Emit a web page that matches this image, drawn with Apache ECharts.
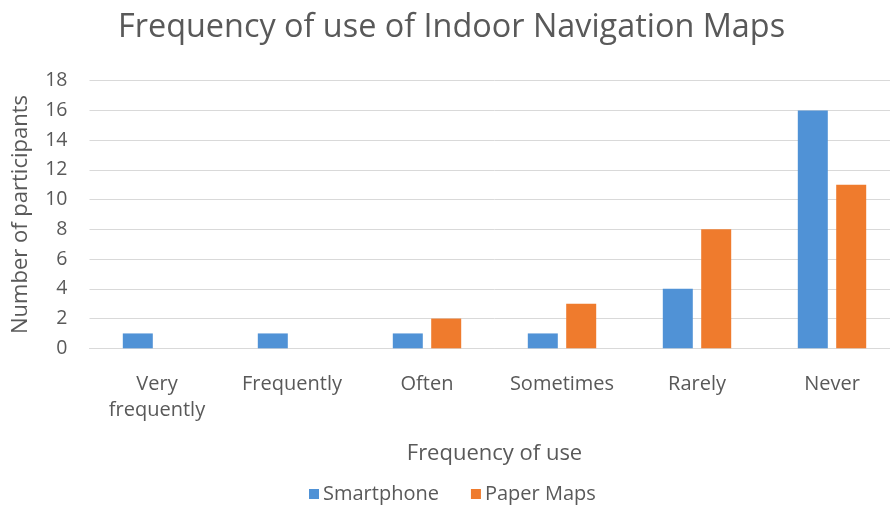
<!DOCTYPE html>
<html>
<head>
<meta charset="utf-8">
<script src="https://cdn.jsdelivr.net/npm/echarts@6/dist/echarts.min.js"></script>
<style>
  html, body { margin: 0; padding: 0; background: #ffffff; overflow: hidden; }
  #chart { width: 900px; height: 507px; }
</style>
</head>
<body>
<div id="chart"></div>
<script>
// Survey answers: how often participants use indoor navigation maps
const categories = ['Very\nfrequently', 'Frequently', 'Often', 'Sometimes', 'Rarely', 'Never'];
const smartphone = [1, 1, 1, 1, 4, 16];
const paperMaps = [0, 0, 2, 3, 8, 11];
const yTicks = [0, 2, 4, 6, 8, 10, 12, 14, 16, 18];

const textColor = '#595959';
const fontFamily = '"Open Sans", "Liberation Sans", sans-serif';

const chart = echarts.init(document.getElementById('chart'), null, { renderer: 'canvas' });

chart.setOption({
  backgroundColor: '#ffffff',
  animation: false,
  textStyle: { fontFamily: fontFamily, color: textColor },
  title: {
    text: 'Frequency of use of Indoor Navigation Maps',
    left: 113,
    top: 7,
    textStyle: { fontFamily: fontFamily, fontSize: 32.4, fontWeight: 'normal', color: textColor }
  },
  legend: {
    data: ['Smartphone', 'Paper Maps'],
    top: 479,
    left: 304,
    itemWidth: 10,
    itemHeight: 10,
    itemGap: 32,
    icon: 'rect',
    textStyle: { fontFamily: fontFamily, fontSize: 20, color: textColor, padding: [0, 0, 0, -1] }
  },
  grid: {
    left: 89.5,
    top: 80.7,
    width: 810,
    height: 267.6,
    containLabel: false
  },
  xAxis: {
    type: 'category',
    data: categories,
    name: 'Frequency of use',
    nameLocation: 'middle',
    nameGap: 94,
    nameTextStyle: { fontFamily: fontFamily, fontSize: 22, color: textColor },
    axisLine: { show: true, lineStyle: { color: '#d9d9d9', width: 1 } },
    axisTick: { show: false },
    axisLabel: {
      fontFamily: fontFamily,
      fontSize: 20,
      color: textColor,
      margin: 23,
      lineHeight: 26,
      interval: 0
    }
  },
  yAxis: {
    type: 'value',
    min: yTicks[0],
    max: yTicks[yTicks.length - 1],
    interval: 2,
    name: 'Number of participants',
    nameLocation: 'middle',
    nameGap: 58,
    nameRotate: 90,
    nameTextStyle: { fontFamily: fontFamily, fontSize: 22, color: textColor },
    axisLine: { show: false },
    axisTick: { show: false },
    axisLabel: { fontFamily: fontFamily, fontSize: 19.5, color: textColor, margin: 22 },
    splitLine: { show: true, lineStyle: { color: '#d9d9d9', width: 1 } }
  },
  series: [
    {
      name: 'Smartphone',
      type: 'bar',
      data: smartphone,
      barWidth: 30,
      barGap: '28%',
      itemStyle: { color: '#5092d6' }
    },
    {
      name: 'Paper Maps',
      type: 'bar',
      data: paperMaps,
      barWidth: 30,
      barGap: '28%',
      itemStyle: { color: '#ef7b2d' }
    }
  ]
});
</script>
</body>
</html>
